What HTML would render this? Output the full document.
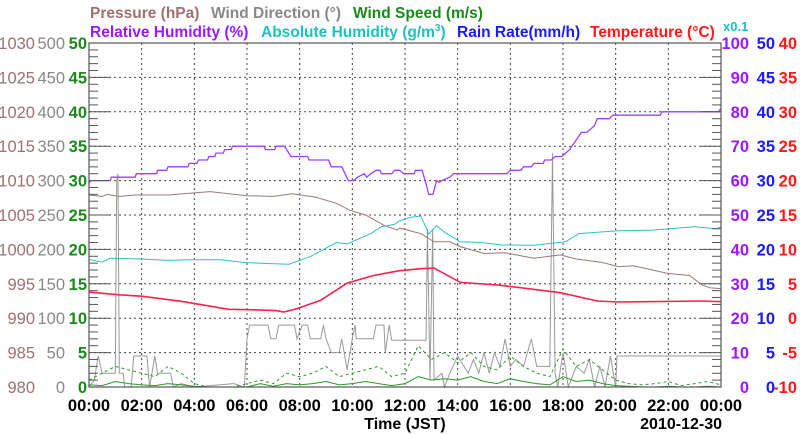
<!DOCTYPE html>
<html><head><meta charset="utf-8"><style>
html,body{margin:0;padding:0;background:#fff}
svg{display:block;font-family:"Liberation Sans",sans-serif}
</style></head><body>
<svg id="c" width="800" height="434" viewBox="0 0 800 434">
<g id="titles" font-size="15.5" font-weight="bold">
<text x="90" y="18" fill="#a07070">Pressure (hPa)</text>
<text x="211" y="18" fill="#888">Wind Direction (°)</text>
<text x="353" y="18" fill="#1a8a1a">Wind Speed (m/s)</text>
<text x="90" y="37" fill="#9a1aff">Relative Humidity (%)</text>
<text x="261" y="37" fill="#20c0c0">Absolute Humidity (g/m<tspan font-size="10" dy="-6">3</tspan><tspan dy="6">)</tspan></text>
<text x="457" y="37" fill="#1a1aff">Rain Rate(mm/h)</text>
<text x="590" y="37" fill="#ff1a1a">Temperature (°C)</text>
<text x="723" y="31" fill="#20c0c0" font-size="13">x0.1</text>
</g>
<g id="grid"></g>
<g id="series"></g>
<g id="axes"></g>
<text x="405" y="429" font-size="16" font-weight="bold" text-anchor="middle">Time (JST)</text>
<text x="722" y="429" font-size="16" font-weight="bold" text-anchor="end">2010-12-30</text>
</svg>
<script>
const xTicks=["00:00","02:00","04:00","06:00","08:00","10:00","12:00","14:00","16:00","18:00","20:00","22:00","00:00"];
const pressTicks=[980,985,990,995,1000,1005,1010,1015,1020,1025,1030];
const dirTicks=[0,50,100,150,200,250,300,350,400,450,500];
const spdTicks=[0,5,10,15,20,25,30,35,40,45,50];
const rhTicks=[0,10,20,30,40,50,60,70,80,90,100];
const rainTicks=[0,5,10,15,20,25,30,35,40,45,50];
const tempTicks=[-10,-5,0,5,10,15,20,25,30,35,40];

const rhH=[0,0.05,0.8,0.85,1.75,1.8,2.57,2.6,2.95,3,3.76,3.8,4.1,4.15,4.5,4.55,4.78,4.82,5.1,5.15,5.4,5.45,6.65,6.7,7.05,7.1,7.42,7.67,8.3,8.36,9.1,9.2,9.6,9.85,10.05,10.2,10.45,10.55,10.7,10.9,11.05,11.1,11.5,11.6,11.8,11.95,12.35,12.4,12.65,12.8,12.9,13.06,13.2,13.3,13.4,13.55,13.7,13.85,15.87,16,16.4,16.5,16.8,16.9,17.25,17.3,17.55,17.7,17.95,18.1,18.25,18.7,18.9,19.2,19.3,19.75,19.9,21.7,21.75,23.9,24];
const rhV=[59,60,60,61,61,62,62,63,63,64,64,65,65,66,66,67,67,68,68,69,69,70,70,69,69,70,70,67,67,66,66,64,64,60,60,61,62,61,62,63,63,62,62,63,63,62,62,63,63,59,56,56,60,59.5,60,60.5,61,62,62,63,63,64,64,65,65,66,66,67,67,68,69,74,74,76,78,78,79,79,80,80,81];

const ahH=[0,0.5,0.8,2,3,4,5,5.9,6.5,7.6,8.4,9.4,9.8,10.7,11.1,11.6,11.8,12.2,12.6,12.8,12.9,13.2,13.5,14.1,14.9,15.6,16.9,18.1,18.6,19.5,20.1,21.4,23,23.8,24];
const ahV=[37.1,36.3,37.4,37.2,36.8,37,37,36.2,36,35.7,37.9,42,41.6,44.6,46.6,47.3,48.3,49.3,49.7,46.3,44.5,46.9,45,42.2,42,41.3,41.2,42.2,44.6,45.1,45.4,45.6,46.6,46,46.5];

const prH=[0,0.5,0.7,1.15,1.75,3,4.6,6,7,7.7,8.4,8.6,9.4,9.9,10.5,11.2,11.7,11.8,12.6,13.1,13.7,14.1,15,15.8,16.9,17.9,18.5,19.5,20.1,20.7,21.4,22,22.8,23.3,23.6,24];
const prV=[1007.9,1007.7,1008,1007.7,1007.9,1007.9,1008.4,1007.8,1007.7,1008.1,1007.7,1007.6,1006.7,1005.7,1005,1003.5,1002.8,1003.1,1002.3,1001.1,1001.1,1000.4,999.4,999.5,998.7,999.2,998.6,998.1,997.5,997.6,997,996.5,996.2,994.8,994.4,994.3];

const tH=[0,1.15,2,3.6,5.3,6.4,7.1,7.4,7.9,8.8,9.8,10.8,11.8,12.6,13.1,14.1,15.6,17.9,19.3,20.1,23.3,24];
const tV=[3.8,3.4,3.2,2.4,1.3,1.2,1.1,0.9,1.4,2.6,5.1,6.2,6.9,7.2,7.3,5.2,4.8,3.7,2.5,2.35,2.5,2.4];

const wdH=[0,0.2,0.35,0.5,1.0,1.05,1.1,1.15,1.3,1.35,1.6,1.7,2.2,2.3,2.5,2.6,3.1,3.2,3.5,4,5.5,5.9,6.0,6.1,6.8,6.9,7.1,7.2,7.8,7.9,8.1,8.3,8.4,8.8,8.9,9.0,9.2,9.5,9.6,9.8,10.0,10.1,10.15,10.8,10.9,11.2,11.25,11.4,11.5,12.8,12.85,12.95,13.05,13.1,13.4,13.5,13.7,14.0,14.4,14.6,14.8,15.0,15.2,15.4,15.6,15.8,16.0,16.2,16.5,16.8,17.0,17.5,17.6,17.7,17.8,18.0,18.2,18.5,18.8,19.0,19.2,19.4,19.6,19.8,20.0,20.05,24];
const wdV=[0,10,45,20,20,300,310,20,20,0,0,45,45,0,45,20,20,0,5,0,5,0,70,90,90,70,70,90,90,70,90,90,70,70,90,70,50,50,70,25,70,90,70,70,90,90,50,90,68,68,230,10,230,10,20,0,20,45,20,40,20,50,20,50,30,70,30,40,30,70,30,30,340,20,0,50,0,30,20,40,0,30,0,45,0,45,45];

const spdV=[0.3,0.2,0.8,0.5,0.3,0.2,0.5,0.3,0.1,0,0,0,0,0.5,0.1,0.5,0.3,0.5,0.8,0.3,0.5,0.8,0.5,0.2,0.5,1.5,1.0,1.2,1.0,1.5,0.8,0.5,1.2,0.8,0.5,0.3,1.5,0.8,1.0,0.5,0.2,0.1,0,0,0.1,0,0,0.1,0];
const gustV=[1,2,3,2.5,2,1.5,3,2,0.5,0,0,0,0.5,1,0.5,2,1.5,2,3,1.5,2,2.5,3,1.5,2,6,4,5,3.5,5,3,2.5,4.5,3,2,1.5,5.5,3,4,2.5,1,0.5,0.3,0.5,0.8,0.2,0.5,0.8,0.3];
const rainV=[0,0];

const X0=89,X1=721,Y0=387,Y1=43;
const NS="http://www.w3.org/2000/svg";
const xs=h=>X0+(X1-X0)*h/24;
const yLin=(v,a,b)=>Y0-(Y0-Y1)*(v-a)/(b-a);
const yP=v=>yLin(v,980,1030), yD=v=>yLin(v,0,500), yS=v=>yLin(v,0,50),
      yR=v=>yLin(v,0,100), yRain=v=>yLin(v,0,50), yT=v=>yLin(v,-10,40);
function mk(tag,attrs,parent){const e=document.createElementNS(NS,tag);for(const k in attrs)e.setAttribute(k,attrs[k]);parent.appendChild(e);return e;}
const grid=document.getElementById('grid'),ser=document.getElementById('series'),ax=document.getElementById('axes');
for(let i=1;i<10;i++){const y=Y0-(Y0-Y1)*i/10;
 const l=mk('line',{x1:X0,x2:X1,y1:y,y2:y,stroke:'#444','stroke-width':1,'stroke-dasharray':'2,3'},grid);
 
 }
for(let i=1;i<12;i++){const x=xs(i*2);
 const l=mk('line',{x1:x,x2:x,y1:Y1,y2:Y0,stroke:'#444','stroke-width':1,'stroke-dasharray':'2,3'},grid);
 
 }
function line(H,V,fy,color,name,w,dash){
 const pts=H.map((h,i)=>xs(h).toFixed(1)+','+fy(V[i]).toFixed(1)).join(' ');
 const p=mk('polyline',{points:pts,fill:'none',stroke:color,'stroke-width':w||1},ser);
 if(dash)p.setAttribute('stroke-dasharray',dash);
 
 }
const halfH=spdV.map((_,i)=>i*0.5);
line(wdH,wdV,yD,'#999','wind-direction-line',1);
line(halfH,gustV,yS,'#2a9a2a','wind-gust-line',1,'3,3');
line(halfH,spdV,yS,'#2a9a2a','wind-speed-line',1);
line([0,24],rainV,yRain,'#3030ff','rain-rate-line',1);
line(prH,prV,yP,'#a07878','pressure-line',1);
line(ahH,ahV,yR,'#30c0c0','absolute-humidity-line',1);
line(rhH,rhV,yR,'#a040ff','relative-humidity-line',1.3);
line(tH,tV,yT,'#ff2050','temperature-line',1.6);
const fr=mk('rect',{x:X0,y:Y1,width:X1-X0,height:Y0-Y1,fill:'none',stroke:'#555','stroke-width':1.2},ax);


for(let i=0;i<=50;i++){const y=Y0-(Y0-Y1)*i/50;const L=i%5==0?20:9;
 mk('line',{x1:X0,x2:X0+L,y1:y,y2:y,stroke:'#555'},ax);
 mk('line',{x1:X1-L,x2:X1,y1:y,y2:y,stroke:'#555'},ax);}
function labels(arr,x,color,anchor,name,bold){arr.forEach((v,i)=>{
 const t=mk('text',{x:x,y:(Y0-(Y0-Y1)*i/10+6).toFixed(1),fill:color,'font-size':16.5,'text-anchor':anchor},ax);
 if(bold)t.setAttribute('font-weight','bold');
 t.textContent=v;
 
 });}
labels(pressTicks,35,'#a07070','end','pressure-tick');
labels(dirTicks,65,'#888','end','wind-direction-tick');
labels(spdTicks,87,'#1a8a1a','end','wind-speed-tick',true);
labels(rhTicks,749,'#9a1aff','end','humidity-tick',true);
labels(rainTicks,775,'#1a1aff','end','rain-tick',true);
labels(tempTicks,797,'#ff1a1a','end','temperature-tick',true);
xTicks.forEach((s,i)=>{const t=mk('text',{x:xs(i*2),y:411,'font-size':16.5,'font-weight':'bold','text-anchor':'middle'},ax);
 t.textContent=s;
 
 });
</script>
</body></html>
